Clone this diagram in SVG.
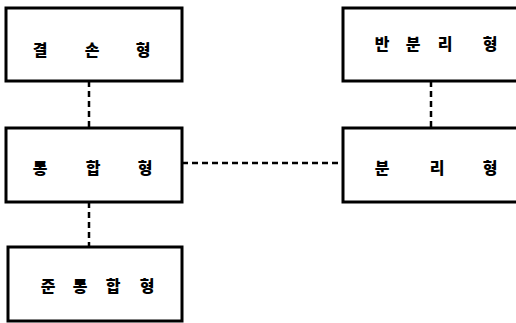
<svg xmlns="http://www.w3.org/2000/svg" width="516" height="323" viewBox="0 0 516 323">
<style>
.box{fill:#fff;stroke:#000;stroke-width:3}
.lbl{font-family:"Noto Sans CJK KR","Noto Sans",sans-serif;font-size:16px;font-weight:900;fill:#000;text-anchor:middle}
.con{stroke:#000;stroke-width:2.5;stroke-dasharray:6 4;fill:none}
</style>
<rect width="516" height="323" fill="#fff"/>
<g id="connectors">
<line class="con" x1="89" y1="81" x2="89" y2="128"/>
<line class="con" x1="89" y1="202" x2="89" y2="247"/>
<line class="con" x1="431" y1="81" x2="431" y2="128"/>
<line class="con" x1="182" y1="163" x2="343" y2="163"/>
</g>
<g id="n1"><rect class="box" x="6" y="8" width="176" height="73"/><text class="lbl" x="40 92 143" y="56">결손형</text></g>
<g id="n2"><rect class="box" x="343" y="8" width="180" height="73"/><text class="lbl" x="382 413 445 490" y="50">반분리형</text></g>
<g id="n3"><rect class="box" x="6" y="128" width="176" height="74"/><text class="lbl" x="40 93 145" y="174">통합형</text></g>
<g id="n4"><rect class="box" x="343" y="128" width="180" height="74"/><text class="lbl" x="382 437 490" y="174">분리형</text></g>
<g id="n5"><rect class="box" x="8" y="247" width="174" height="74"/><text class="lbl" x="48 80 113 147" y="292">준통합형</text></g>
</svg>
